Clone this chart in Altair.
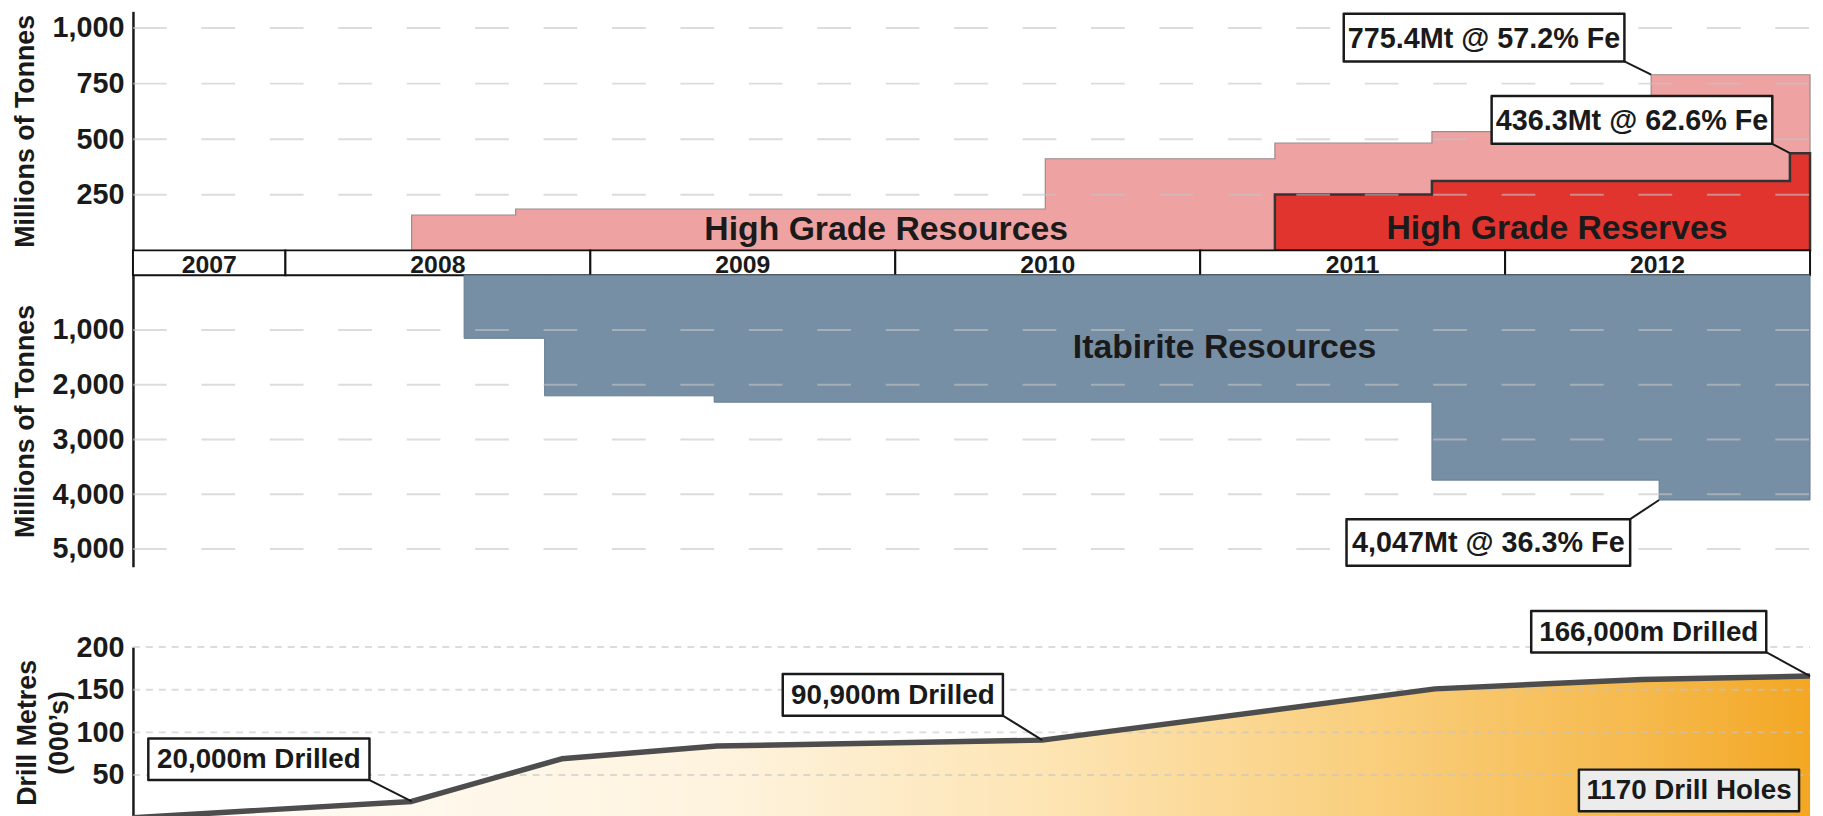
import altair as alt
import pandas as pd

FONT = "Liberation Sans"
INK = "#1a1a1a"
PINK = "#eea3a2"
RED = "#e2342e"
BLUE = "#778fa5"

# ---------------- data ----------------
X0, X1 = 2007.5, 2013.0

# High grade resources (Mt), step series
hg_res_year = [2008.414, 2008.414, 2008.755, 2010.492, 2011.245, 2011.76, 2012.479, 2013.0]
hg_res_mt = [0, 159, 186, 412, 483, 534, 790, 790]

# High grade reserves (Mt), step series
hg_rsv_year = [2011.245, 2011.245, 2011.76, 2012.934, 2013.0]
hg_rsv_mt = [0, 251, 312, 437, 437]

# Itabirite resources (Mt), step series
ita_year = [2008.586, 2008.586, 2008.85, 2009.406, 2011.76, 2012.505, 2013.0]
ita_mt = [0, 1154, 2204, 2320, 3744, 4107, 4107]

# Cumulative drill metres (000's)
drill_year = [2007.5, 2008.414, 2008.906, 2009.415, 2010.482, 2011.77, 2012.45, 2013.0]
drill_km = [0, 19, 69, 84, 90.9, 151, 162, 166]

# Year band
years = ["2007", "2008", "2009", "2010", "2011", "2012"]
year_start = [2007.5, 2008, 2009, 2010, 2011, 2012]
year_end = [2008, 2009, 2010, 2011, 2012, 2013]

top_ticks = [250, 500, 750, 1000]
mid_ticks = [1000, 2000, 3000, 4000, 5000]
drill_ticks = [50, 100, 150, 200]

# Area names (text, x, y)
top_names = ["High Grade Resources", "High Grade Reserves"]
top_names_x = [2009.97, 2012.17]
top_names_y = [45, 49]
mid_names = ["Itabirite Resources"]
mid_names_x = [2011.08]
mid_names_y = [1504]

# Callouts: label, centre x, centre y; leaders from (x, y) to (x2, y2)
top_call = ["775.4Mt @ 57.2% Fe", "436.3Mt @ 62.6% Fe"]
top_call_x = [2011.931, 2012.416]
top_call_y = [957, 587]
top_lead = [(2012.391, 850, 2012.479, 790), (2012.876, 479, 2012.934, 437)]

mid_call = ["4,047Mt @ 36.3% Fe"]
mid_call_x = [2011.945]
mid_call_y = [4882]
mid_lead = [(2012.41, 4457, 2012.505, 4107)]

drill_call = ["20,000m Drilled", "90,900m Drilled", "166,000m Drilled", "1170 Drill Holes"]
drill_call_x = [2007.913, 2009.992, 2012.471, 2012.603]
drill_call_y = [68.5, 144, 218, 31.9]
drill_lead = [(2008.276, 44, 2008.414, 19), (2010.354, 119.4, 2010.482, 90.9),
              (2012.856, 194, 2013.0, 166)]

# ---------------- layout ----------------
W = 1691
H_TOP, H_BAND, H_MID, H_GAP, H_DRILL = 241, 25, 294, 81, 172
TOP_MAX, MID_MAX, DRILL_MAX = 1075, 5326, 200

xscale = alt.Scale(domain=[X0, X1], nice=False, zero=False)
top_y = alt.Scale(domain=[0, TOP_MAX], nice=False)
mid_y = alt.Scale(domain=[0, MID_MAX], nice=False, reverse=True)
drill_y = alt.Scale(domain=[0, DRILL_MAX], nice=False)

COMMA = "format(datum.value, ',')"
top_axis = alt.Axis(values=top_ticks, labelExpr=COMMA, title="Millions of Tonnes", titlePadding=13)
mid_axis = alt.Axis(values=mid_ticks, labelExpr=COMMA, title="Millions of Tonnes", titlePadding=13)
drill_axis = alt.Axis(values=drill_ticks, labelExpr=COMMA, title=["Drill Metres", "(000\u2019s)"],
                      titlePadding=3, titleLineHeight=32)


def X(f):
    return alt.X(f"{f}:Q", scale=xscale, axis=None)


def Y(f, sc, ax):
    return alt.Y(f"{f}:Q", scale=sc, axis=ax)


def grid_layer(ticks, sc, ax, dash):
    df = pd.DataFrame({"g": ticks, "a": [X0] * len(ticks), "b": [X1] * len(ticks)})
    return alt.Chart(df).mark_rule(strokeDash=dash, color="#c4c4c4", strokeWidth=2, opacity=0.6).encode(
        x=X("a"), x2="b:Q", y=Y("g", sc, ax)
    )


def name_layer(texts, xs, ys, sc, ax):
    df = pd.DataFrame({"t": texts, "x": xs, "y": ys})
    return alt.Chart(df).mark_text(font=FONT, fontSize=34, fontWeight="bold", color=INK,
                                   align="center", baseline="alphabetic").encode(
        x=X("x"), y=Y("y", sc, ax), text="t:N")


def lead_layer(leads, sc, ax):
    df = pd.DataFrame(leads, columns=["x", "y", "x2", "y2"])
    return alt.Chart(df).mark_rule(color=INK, strokeWidth=2).encode(
        x=X("x"), y=Y("y", sc, ax), x2="x2:Q", y2="y2:Q")


def box_layers(label, cx, cy, w, h, sc, ax, fs, fill="white"):
    df = pd.DataFrame({"t": [label], "x": [cx], "y": [cy]})
    k = h / w
    shape = f"M-1,-{k:.4f}L1,-{k:.4f}L1,{k:.4f}L-1,{k:.4f}Z"
    box = alt.Chart(df).mark_point(shape=shape, size=w * w, filled=True, fill=fill, stroke=INK,
                                   strokeWidth=2.5, strokeJoin="round", opacity=1).encode(
        x=X("x"), y=Y("y", sc, ax))
    txt = alt.Chart(df).mark_text(font=FONT, fontSize=fs, fontWeight="bold", color=INK,
                                  align="center", baseline="middle", dy=1).encode(
        x=X("x"), y=Y("y", sc, ax), text="t:N")
    return [box, txt]


# ---------------- top panel ----------------
res_df = pd.DataFrame({"year": hg_res_year, "mt": hg_res_mt})
rsv_df = pd.DataFrame({"year": hg_rsv_year, "mt": hg_rsv_mt})

pink = alt.Chart(res_df).mark_area(interpolate="step-after", fill=PINK, stroke="#9b8b8b",
                                   strokeWidth=1.2).encode(x=X("year"), y=Y("mt", top_y, top_axis))
red = alt.Chart(rsv_df).mark_area(interpolate="step-after", fill=RED, stroke="#333333",
                                  strokeWidth=2.5).encode(x=X("year"), y=Y("mt", top_y, top_axis))

top_layers = [pink, red, grid_layer(top_ticks, top_y, top_axis, [34, 35]),
              name_layer(top_names, top_names_x, top_names_y, top_y, top_axis),
              lead_layer(top_lead, top_y, top_axis)]
for lab, cx, cy in zip(top_call, top_call_x, top_call_y):
    top_layers += box_layers(lab, cx, cy, 283, 48, top_y, top_axis, 29)
top = alt.layer(*top_layers).properties(width=W, height=H_TOP)

# ---------------- year band ----------------
band_df = pd.DataFrame({"year": years, "s": year_start, "e": year_end})
band_df["mid"] = (band_df["s"] + band_df["e"]) / 2
band_df["lo"] = 0
band_df["hi"] = 1
band_y = alt.Scale(domain=[0, 1], nice=False)
band_rect = alt.Chart(band_df).mark_rect(fill="white", stroke="#111111", strokeWidth=2).encode(
    x=X("s"), x2="e:Q", y=Y("lo", band_y, None), y2="hi:Q")
band_text = alt.Chart(band_df).mark_text(font=FONT, fontSize=25, fontWeight="bold", color=INK,
                                         baseline="alphabetic", dy=-2).encode(
    x=X("mid"), y=Y("lo", band_y, None), text="year:N")
band = alt.layer(band_rect, band_text).properties(width=W, height=H_BAND)

# ---------------- itabirite panel ----------------
ita_df = pd.DataFrame({"year": ita_year, "mt": ita_mt})
blue = alt.Chart(ita_df).mark_area(interpolate="step-after", fill=BLUE, stroke="#667d92",
                                   strokeWidth=1).encode(x=X("year"), y=Y("mt", mid_y, mid_axis))
mid_layers = [blue, grid_layer(mid_ticks, mid_y, mid_axis, [34, 35]),
              name_layer(mid_names, mid_names_x, mid_names_y, mid_y, mid_axis),
              lead_layer(mid_lead, mid_y, mid_axis)]
for lab, cx, cy in zip(mid_call, mid_call_x, mid_call_y):
    mid_layers += box_layers(lab, cx, cy, 286, 47, mid_y, mid_axis, 29)
mid = alt.layer(*mid_layers).properties(width=W, height=H_MID)

# ---------------- spacer ----------------
spacer = alt.Chart(pd.DataFrame({"v": [0]})).mark_point(opacity=0).encode(
    x=alt.X("v:Q", axis=None), y=alt.Y("v:Q", axis=None)).properties(width=W, height=H_GAP)

# ---------------- drill panel ----------------
drill_df = pd.DataFrame({"year": drill_year, "km": drill_km})
grad = alt.Gradient(
    gradient="linear",
    stops=[
        alt.GradientStop(color="#fffdf9", offset=0),
        alt.GradientStop(color="#fef3de", offset=0.35),
        alt.GradientStop(color="#fde4b2", offset=0.55),
        alt.GradientStop(color="#f9cd7a", offset=0.75),
        alt.GradientStop(color="#f6b94c", offset=0.9),
        alt.GradientStop(color="#f3a724", offset=1),
    ],
    x1=0, x2=1, y1=0, y2=0,
)
d_area = alt.Chart(drill_df).mark_area(color=grad).encode(
    x=X("year"), y=Y("km", drill_y, drill_axis))
d_line = alt.Chart(drill_df).mark_line(color="#4d4d4d", strokeWidth=5.5, strokeJoin="round").encode(
    x=X("year"), y=Y("km", drill_y, drill_axis))
drill_layers = [d_area, grid_layer(drill_ticks, drill_y, drill_axis, [7, 6]), d_line,
                lead_layer(drill_lead, drill_y, drill_axis)]
drill_w = [223, 222, 237, 222]
for i, (lab, cx, cy) in enumerate(zip(drill_call, drill_call_x, drill_call_y)):
    fill = "#ececec" if i == 3 else "white"
    drill_layers += box_layers(lab, cx, cy, drill_w[i], 42, drill_y, drill_axis, 28, fill)
drill = alt.layer(*drill_layers).properties(width=W, height=H_DRILL)

chart = alt.vconcat(top, band, mid, spacer, drill, spacing=0, bounds="flush").properties(
    padding={"left": 3, "top": 0, "right": 0, "bottom": 0}
).configure(font=FONT).configure_view(strokeWidth=0).configure_axis(
    labelFont=FONT, labelFontSize=29, labelFontWeight="bold", labelColor=INK, labelPadding=9,
    titleFont=FONT, titleFontSize=27, titleFontWeight="bold", titleColor=INK,
    ticks=False, grid=False, domainColor=INK, domainWidth=2.5,
)

chart.save("out.html", embed_options={"renderer": "svg", "actions": False})
